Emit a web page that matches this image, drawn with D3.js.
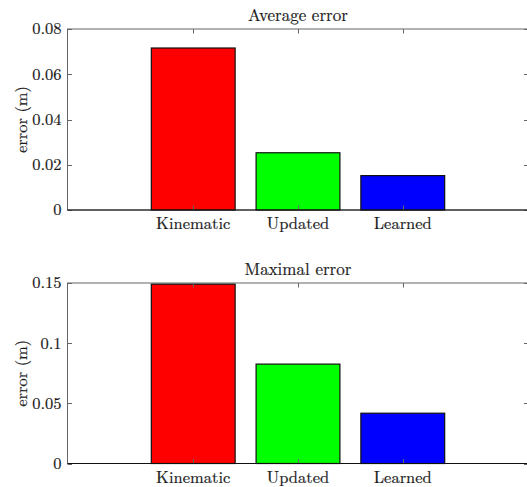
<!DOCTYPE html>
<html>
<head>
<meta charset="utf-8">
<script src="https://cdn.jsdelivr.net/npm/d3@7/dist/d3.min.js"></script>
<style>
  body { margin: 0; background: #fff; }
</style>
</head>
<body>
<svg id="chart" width="527" height="487"></svg>
<script>
// data
const categories = ['Kinematic', 'Updated', 'Learned']
const barColors = ['#ff0000', '#00ff00', '#0000ff']
const avgError = [0.0716, 0.0253, 0.0152]
const maxError = [0.149, 0.0826, 0.0418]
const avgTicks = [0, 0.02, 0.04, 0.06, 0.08]
const maxTicks = [0, 0.05, 0.1, 0.15]

const svg = d3.select('#chart')
const tickLen = 4.5
const axisColor = '#666'
const fontSize = 16.5
const textColor = '#1a1a1a'

// small helper so every label gets the same latex-like look
function label(sel, size = fontSize) {
	return sel.style('font-family', '"Latin Modern Roman"')
		.attr('font-size', size)
		.attr('fill', textColor)
		.attr('stroke', textColor)
		.attr('stroke-width', 0.2)
}

// x is numeric like matlab bar(1:3), with xlim [-0.2, 4.2]
const x = d3.scaleLinear().domain([-0.2, 4.2]).range([67.5, 528.5])
const barW = x(0.8) - x(0)

function drawPanel({ top, bottom, values, ticks, yMax, title, fmt }) {
	const g = svg.append('g')
	const y = d3.scaleLinear().domain([0, yMax]).range([bottom, top])
	const [x0, x1] = x.range()

	// box (gray frame)
	g.append('rect')
		.attr('x', x0).attr('y', top)
		.attr('width', x1 - x0).attr('height', bottom - top)
		.attr('fill', 'none').attr('stroke', axisColor).attr('stroke-width', 1)

	// bars
	g.selectAll('rect.bar')
		.data(values)
		.join('rect')
		.attr('class', 'bar')
		.attr('x', (d, i) => x(i + 1) - barW / 2)
		.attr('y', d => y(d))
		.attr('width', barW)
		.attr('height', d => y(0) - y(d))
		.attr('fill', (d, i) => barColors[i])
		.attr('stroke', '#111')
		.attr('stroke-width', 1.2)

	// y ticks, inner, on both sides
	ticks.forEach(t => {
		const yy = Math.round(y(t)) + 0.5
		g.append('line').attr('x1', x0).attr('x2', x0 + tickLen).attr('y1', yy).attr('y2', yy).attr('stroke', axisColor)
		g.append('line').attr('x1', x1).attr('x2', x1 - tickLen).attr('y1', yy).attr('y2', yy).attr('stroke', axisColor)
		g.append('text')
			.attr('x', x0 - 6).attr('y', y(t))
			.attr('dy', '0.33em')
			.attr('text-anchor', 'end')
			.call(label)
			.text(fmt(t))
	})

	// x ticks, top and bottom
	categories.forEach((c, i) => {
		const xx = Math.round(x(i + 1)) + 0.5
		g.append('line').attr('x1', xx).attr('x2', xx).attr('y1', top).attr('y2', top + tickLen).attr('stroke', axisColor)
		g.append('line').attr('x1', xx).attr('x2', xx).attr('y1', bottom).attr('y2', bottom - tickLen).attr('stroke', axisColor)
		g.append('text')
			.attr('x', x(i + 1)).attr('y', bottom + 19)
			.attr('text-anchor', 'middle')
			.call(label)
			.text(c)
	})

	// baseline (black, like matlab bar)
	g.append('line')
		.attr('x1', x0).attr('x2', x1)
		.attr('y1', y(0)).attr('y2', y(0))
		.attr('stroke', '#111').attr('stroke-width', 1.2)

	g.append('text')
		.attr('x', 298).attr('y', top - 8)
		.attr('text-anchor', 'middle')
		.call(label, 17)
		.text(title)

	g.append('text')
		.attr('transform', `translate(27,${(top + bottom) / 2}) rotate(-90)`)
		.attr('text-anchor', 'middle')
		.call(label)
		.text('error (m)')
}

drawPanel({ top: 29, bottom: 210, values: avgError, ticks: avgTicks, yMax: 0.08,
	title: 'Average error', fmt: d => d === 0 ? '0' : d.toFixed(2) })
drawPanel({ top: 283, bottom: 463.5, values: maxError, ticks: maxTicks, yMax: 0.15,
	title: 'Maximal error', fmt: d => d === 0 ? '0' : String(d) })
</script>
</body>
</html>
